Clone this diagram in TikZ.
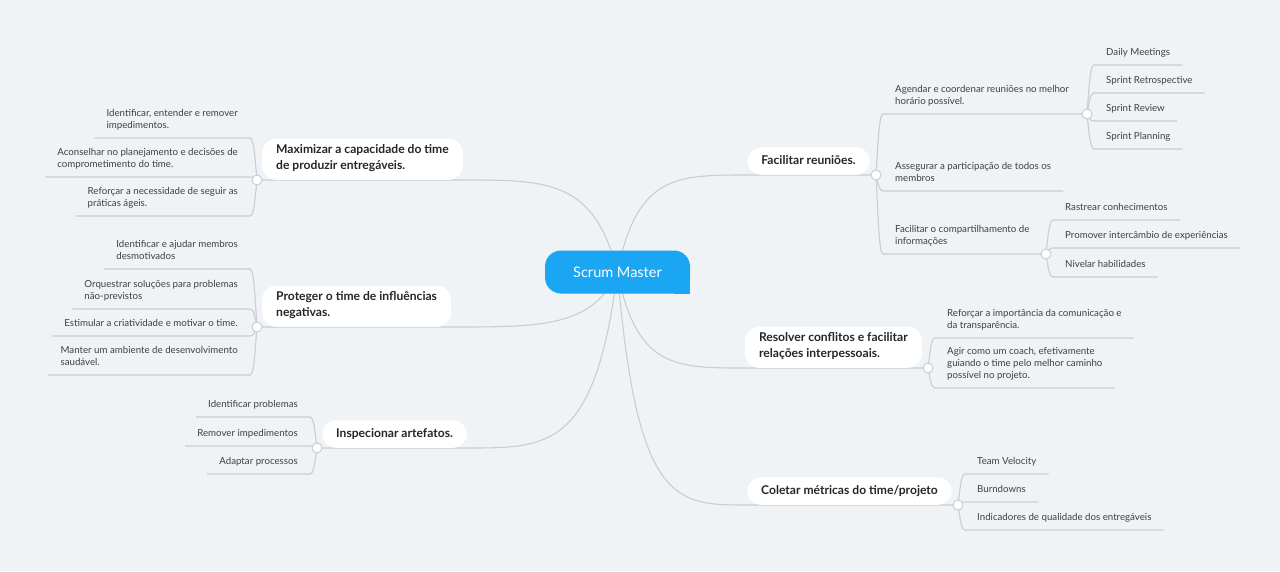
\documentclass[tikz,border=0pt]{standalone}
\usepackage{fontspec}
\setmainfont{Lato}
\usetikzlibrary{calc}
\definecolor{bgc}{HTML}{EFF3F6}
\definecolor{linec}{HTML}{C8CED4}
\definecolor{leafc}{HTML}{404040}
\definecolor{topc}{HTML}{262626}
\definecolor{smblue}{HTML}{1BA6F4}
\newcommand\leaffont{\fontsize{9.7}{12}\selectfont}
\newcommand\topicfont{\fontsize{12.1}{15.5}\selectfont\bfseries}
\pgfdeclarelayer{back}
\pgfsetlayers{back,main}
\tikzset{
  ln/.style={draw=linec, line width=1.1pt},
  leafR/.style={anchor=south west, align=left, font=\leaffont, text=leafc,
    inner xsep=12pt, inner ysep=5.4pt, execute at begin node={\strut}, execute at end node={\strut}},
  leafL/.style={leafR, anchor=south east},
  topic/.style={fill=white, rounded corners=14pt, align=left, font=\topicfont, text=topc,
    inner xsep=14pt, inner ysep=6pt, execute at begin node={\strut}, execute at end node={\strut}},
  dot/.style={circle, draw=linec, line width=1pt, fill=white, minimum size=10pt, inner sep=0pt},
}
\newcommand\brR[2]{\draw[ln] let \p1=(#1.center),\p2=(#2.south west) in (\p1) .. controls (\x1+2pt,{(\y1+\y2)/2}) and (\x1+3pt,\y2) .. (\p2) -- (#2.south east);}
\newcommand\brRto[3]{\draw[ln] let \p1=(#1.center),\p2=(#2.south west) in (\p1) .. controls (\x1+2pt,{(\y1+\y2)/2}) and (\x1+3pt,\y2) .. (\p2) -- (#3.center);}
\newcommand\brL[2]{\draw[ln] let \p1=(#1.center),\p2=(#2.south east) in (\p1) .. controls (\x1-2pt,{(\y1+\y2)/2}) and (\x1-3pt,\y2) .. (\p2) -- (#2.south west);}
\newcommand\mainR[2]{\draw[ln] let \p1=(sm.center),\p2=(#1.south west) in (\p1) .. controls ({\x1+0.15*(\x2-\x1)},\y2) and ({\x1+0.45*(\x2-\x1)},\y2) .. (\p2) -- (#2.center);}
\newcommand\mainL[2]{\draw[ln] let \p1=(sm.center),\p2=(#1.south east) in (\p1) .. controls ({\x1+0.15*(\x2-\x1)},\y2) and ({\x1+0.45*(\x2-\x1)},\y2) .. (\p2) -- (#2.center);}
\begin{document}
\begin{tikzpicture}[x=1pt,y=-1pt]
\begin{pgfonlayer}{back}
\fill[bgc] (0,0) rectangle (1280,571);
\end{pgfonlayer}
\useasboundingbox (0,0) rectangle (1280,571);

% circles positions (coordinates first, drawn later)
\coordinate (pcfr) at (876,175);
\coordinate (pcrc) at (928,368);
\coordinate (pccm) at (958,505);
\coordinate (pcmx) at (257,180);
\coordinate (pcpt) at (257,327);
\coordinate (pcip) at (317,448);

% central topic
\node[fill=smblue, rounded corners=16pt, minimum width=145pt, minimum height=43pt,
  text=white, font=\fontsize{14.5}{17}\selectfont] (sm) at (617.5,272) {Scrum Master};
\fill[smblue] (sm.south east) rectangle ++(-16,-16);

% main topics
\node[topic, anchor=south east] (tfr) at (870,175) {Facilitar reuniões.};
\node[topic, anchor=south east] (trc) at (922,368) {Resolver conflitos e facilitar\\relações interpessoais.};
\node[topic, anchor=south east] (tcm) at (952,505) {Coletar métricas do time/projeto};
\node[topic, anchor=south west] (tmx) at (262,180) {Maximizar a capacidade do time\\de produzir entregáveis.};
\node[topic, anchor=south west] (tpt) at (262,327) {Proteger o time de influências\\negativas.};
\node[topic, anchor=south west] (tip) at (322,448) {Inspecionar artefatos.};

% leaves right
\node[leafR] (lag) at (883,114) {Agendar e coordenar reuniões no melhor\\horário possível.};
\node[leafR] (las) at (883,191) {Assegurar a participação de todos os\\membros};
\node[leafR] (lfc) at (883,254) {Facilitar o compartilhamento de\\informações};
\coordinate (pcag) at (1087,114);
\coordinate (pcfc) at (1046,254);
\node[leafR] (ldm) at (1094,65) {Daily Meetings};
\node[leafR] (lsr) at (1094,93) {Sprint Retrospective};
\node[leafR] (lsv) at (1094,121) {Sprint Review};
\node[leafR] (lsp) at (1094,149) {Sprint Planning};
\node[leafR] (lrc) at (1053,220) {Rastrear conhecimentos};
\node[leafR] (lpi) at (1053,248) {Promover intercâmbio de experiências};
\node[leafR] (lnh) at (1053,277) {Nivelar habilidades};
\node[leafR] (lri) at (935,338) {Reforçar a importância da comunicação e\\da transparência.};
\node[leafR] (lac) at (935,388) {Agir como um coach, efetivamente\\guiando o time pelo melhor caminho\\possível no projeto.};
\node[leafR] (ltv) at (965,474) {Team Velocity};
\node[leafR] (lbd) at (965,502) {Burndowns};
\node[leafR] (liq) at (965,530) {Indicadores de qualidade dos entregáveis};

% leaves left
\node[leafL] (lie) at (250,138) {Identificar, entender e remover\\impedimentos.};
\node[leafL] (lap) at (250,177) {Aconselhar no planejamento e decisões de\\comprometimento do time.};
\node[leafL] (lrn) at (250,216) {Reforçar a necessidade de seguir as\\práticas ágeis.};
\node[leafL] (lim) at (250,269) {Identificar e ajudar membros\\desmotivados};
\node[leafL] (los) at (250,309) {Orquestrar soluções para problemas\\não-previstos};
\node[leafL] (lec) at (250,336) {Estimular a criatividade e motivar o time.};
\node[leafL] (lma) at (250,375) {Manter um ambiente de desenvolvimento\\saudável.};
\node[leafL] (lip) at (310,417) {Identificar problemas};
\node[leafL] (lri2) at (310,446) {Remover impedimentos};
\node[leafL] (lpr) at (310,474) {Adaptar processos};

% circles
\node[dot] (cfr) at (pcfr) {};
\node[dot] (crc) at (pcrc) {};
\node[dot] (ccm) at (pccm) {};
\node[dot] (cmx) at (pcmx) {};
\node[dot] (cpt) at (pcpt) {};
\node[dot] (cip) at (pcip) {};
\node[dot] (cag) at (pcag) {};
\node[dot] (cfc) at (pcfc) {};

\begin{pgfonlayer}{back}
\mainR{tfr}{cfr}
\mainR{trc}{crc}
\mainR{tcm}{ccm}
\mainL{tmx}{cmx}
\mainL{tpt}{cpt}
\mainL{tip}{cip}
\brRto{cfr}{lag}{cag}
\brR{cfr}{las}
\brRto{cfr}{lfc}{cfc}
\brR{cag}{ldm}
\brR{cag}{lsr}
\brR{cag}{lsv}
\brR{cag}{lsp}
\brR{cfc}{lrc}
\brR{cfc}{lpi}
\brR{cfc}{lnh}
\brR{crc}{lri}
\brR{crc}{lac}
\brR{ccm}{ltv}
\brR{ccm}{lbd}
\brR{ccm}{liq}
\brL{cmx}{lie}
\brL{cmx}{lap}
\brL{cmx}{lrn}
\brL{cpt}{lim}
\brL{cpt}{los}
\brL{cpt}{lec}
\brL{cpt}{lma}
\brL{cip}{lip}
\brL{cip}{lri2}
\brL{cip}{lpr}
\end{pgfonlayer}
\end{tikzpicture}
\end{document}
